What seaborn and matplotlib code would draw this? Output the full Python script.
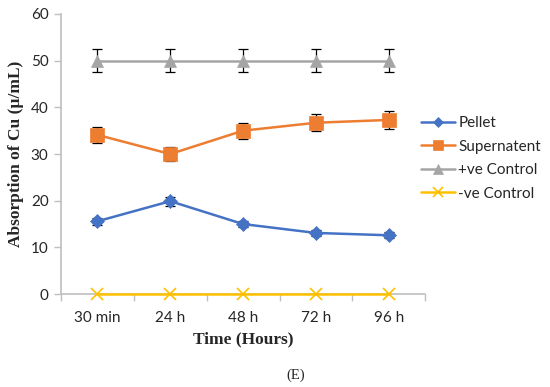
import numpy as np
import pandas as pd
import matplotlib
matplotlib.use("Agg")
import matplotlib.pyplot as plt
import seaborn as sns

# ---------------------------------------------------------------------------
# Data
# ---------------------------------------------------------------------------
TIMES = ["30 min", "24 h", "48 h", "72 h", "96 h"]
SERIES = ["Pellet", "Supernatent", "+ve Control", "-ve Control"]

pellet = [15.6, 19.9, 15.0, 13.1, 12.6]
pellet_err = [0.7, 1.0, 0.7, 0.6, 0.6]
supernatent = [34.1, 30.0, 35.0, 36.7, 37.3]
supernatent_err = [1.7, 1.5, 1.7, 1.8, 1.9]
pos_control = [50, 50, 50, 50, 50]
pos_control_err = [2.5, 2.5, 2.5, 2.5, 2.5]
neg_control = [0, 0, 0, 0, 0]
neg_control_err = [0, 0, 0, 0, 0]

COLORS = ["#4472C4", "#ED7D31", "#A5A5A5", "#FFC000"]
MARKERS = ["D", "s", "^", "x"]
MSIZES = [7, 9.5, 8.5, 9]

sns.set_style("white")
plt.rcParams["font.family"] = ["Lato", "DejaVu Sans"]

values = [pellet, supernatent, pos_control, neg_control]
errors = [pellet_err, supernatent_err, pos_control_err, neg_control_err]
df = pd.DataFrame({
    "x": np.tile(np.arange(len(TIMES)), len(SERIES)),
    "value": np.concatenate(values),
    "err": np.concatenate(errors),
    "series": np.repeat(SERIES, len(TIMES)),
})

fig = plt.figure(figsize=(5.5, 3.87), dpi=100)
ax = fig.add_axes([0.111, 0.240, 0.662, 0.724])

for name, color, marker, ms in zip(SERIES, COLORS, MARKERS, MSIZES):
    sub = df[df["series"] == name]
    if sub["err"].max() > 0:
        ax.errorbar(sub["x"], sub["value"], yerr=sub["err"], fmt="none",
                    ecolor="black", elinewidth=0.9, capsize=3.5, capthick=0.9,
                    zorder=3)
    sns.lineplot(data=sub, x="x", y="value", color=color, marker=marker,
                 markersize=ms, linewidth=1.8, markeredgecolor=color,
                 markeredgewidth=1.2 if marker == "x" else 0.5,
                 label=name, ax=ax, zorder=4, clip_on=False)

ax.set_xlim(-0.5, len(TIMES) - 0.5)
ax.set_ylim(0, 60)
ax.set_yticks(range(0, 61, 10))
ax.set_xticks(np.arange(len(TIMES)))
ax.set_xticklabels(TIMES)
ax.set_xticks(np.arange(-0.5, len(TIMES)), minor=True)
ax.tick_params(axis="x", which="major", length=0, labelsize=11, pad=12)
ax.tick_params(axis="x", which="minor", length=5, width=1, color="#bfbfbf",
               direction="out", bottom=True)
ax.tick_params(axis="y", length=5, width=1, color="#bfbfbf", left=True,
               labelsize=11, pad=4)

for side in ["top", "right"]:
    ax.spines[side].set_visible(False)
for side in ["left", "bottom"]:
    ax.spines[side].set_color("#bfbfbf")
    ax.spines[side].set_linewidth(1.2)
    ax.spines[side].set_zorder(1)

ax.set_xlabel("Time (Hours)", family="Liberation Serif", fontweight="bold",
              fontsize=12.5, labelpad=5)
ax.set_ylabel("Absorption of Cu (µ/mL)", family="Liberation Serif",
              fontweight="bold", fontsize=12.5, labelpad=5)

leg = ax.legend(loc="center left", bbox_to_anchor=(421 / 550, 1 - 158.5 / 387),
                bbox_transform=fig.transFigure, frameon=False, fontsize=11,
                handlelength=2.2, handletextpad=0.25, labelspacing=0.62,
                borderpad=0, borderaxespad=0, markerscale=0.8)

fig.text(296 / 550, 1 - 375 / 387, "(E)", family="Liberation Serif",
         fontsize=10.5, ha="center", va="center")

fig.savefig("out.png", dpi=100)
